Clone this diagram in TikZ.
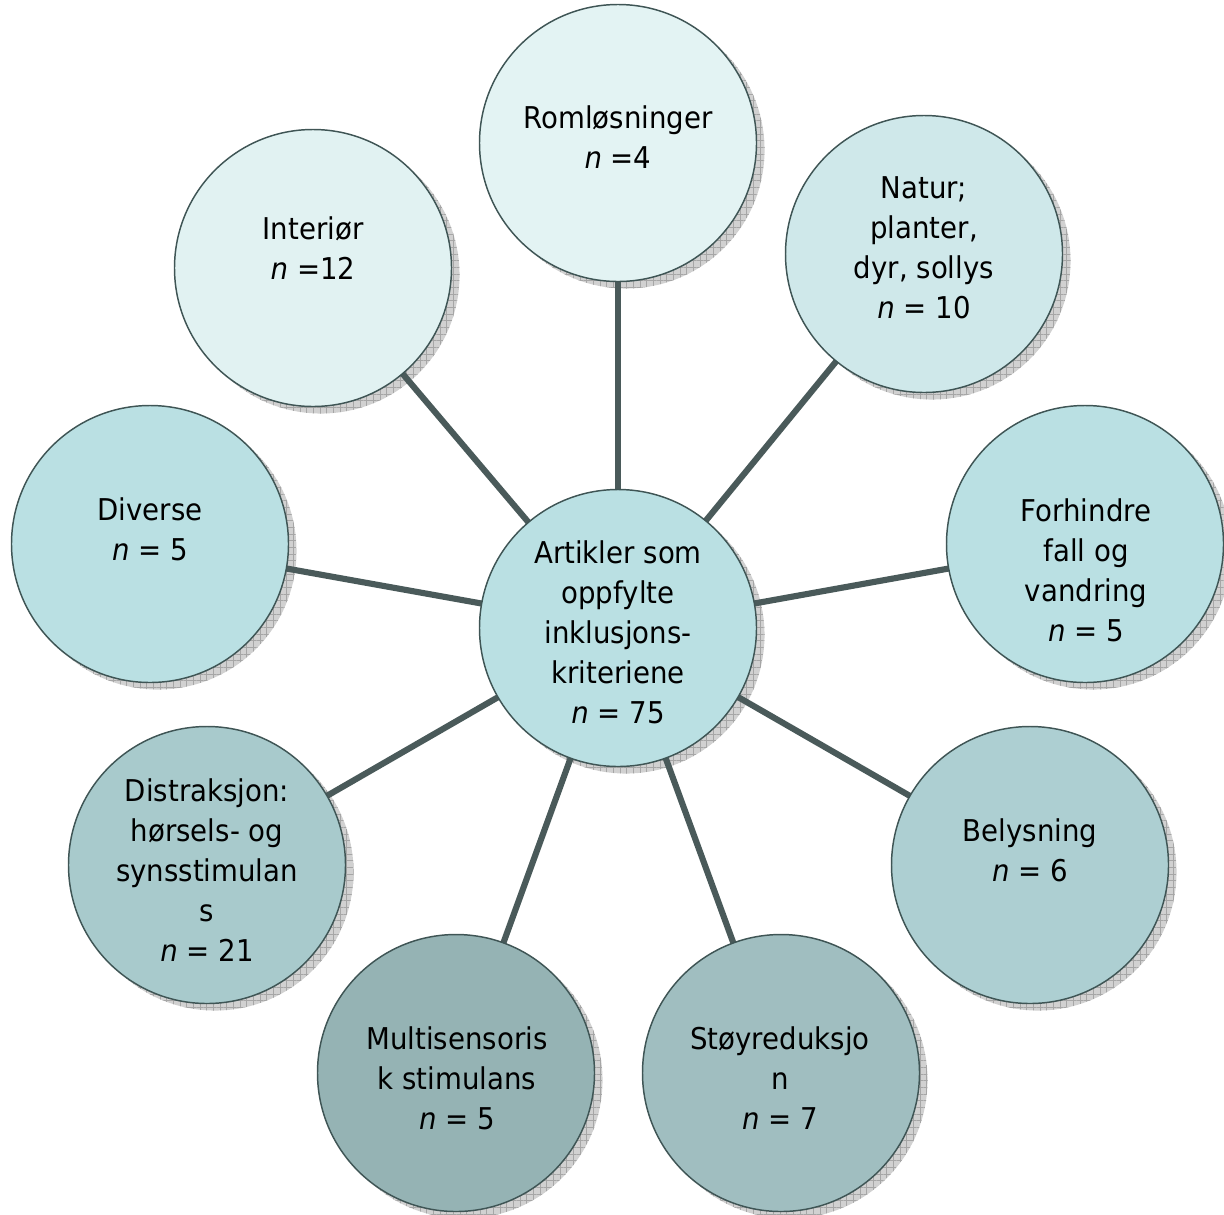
\documentclass[tikz,border=0pt]{standalone}
\usepackage{fontspec}
\setmainfont{DejaVu Sans}[FakeStretch=0.92]
\usepackage{tikz}
\usetikzlibrary{patterns.meta}
\definecolor{spokegray}{HTML}{4A5A5A}
\definecolor{rimgray}{HTML}{3F5555}
\definecolor{romfill}{HTML}{E3F3F3}
\definecolor{intfill}{HTML}{E1F2F2}
\definecolor{natfill}{HTML}{CFE8EA}
\definecolor{hubfill}{HTML}{BAE0E3}
\definecolor{disfill}{HTML}{A8CACC}
\definecolor{belfill}{HTML}{ADCFD2}
\definecolor{mulfill}{HTML}{95B3B4}
\definecolor{stofill}{HTML}{A0BEC0}
\pgfdeclarelayer{shadowlayer}
\pgfdeclarelayer{spokelayer}
\pgfsetlayers{shadowlayer,spokelayer,main}
\tikzset{
every picture/.style={line cap=round,line join=round},
topic/.style={
  circle,
  draw=rimgray,
  line width=1.1pt,
  minimum size=207.75pt,
  inner sep=0pt
},
topic text/.style={align=center, inner sep=0pt, font=\fontsize{22.5}{30}\selectfont},
topic shadow/.style={
  fill=black!18,
  postaction={pattern={Hatch[distance=5pt,line width=0.4pt]}, pattern color=black!35}
},
spoke/.style={draw=spokegray, line width=4.6pt, line cap=butt}
}

\begin{document}
\begin{tikzpicture}[x=0.75pt,y=-0.75pt]
\useasboundingbox (0,0) rectangle (1224,1214);
% circles
\node[topic, fill=hubfill] (hub) at (618,628) {};
\node[topic, fill=romfill] (rom) at (618,143) {};
\node[topic, fill=intfill] (int) at (313,268) {};
\node[topic, fill=natfill] (nat) at (924,254) {};
\node[topic, fill=hubfill] (div) at (150,544) {};
\node[topic, fill=hubfill] (for) at (1085,544) {};
\node[topic, fill=disfill] (dis) at (207,865) {};
\node[topic, fill=belfill] (bel) at (1030,865) {};
\node[topic, fill=mulfill] (mul) at (456,1073) {};
\node[topic, fill=stofill] (sto) at (781,1073) {};
% texts
\node[topic text] (hub-txt) at (618,632) {Artikler som\\oppfylte\\inklusjons-\\kriteriene\\\textit{n} = 75};
\node[topic text] (rom-txt) at (618,137) {Romløsninger\\\textit{n} =4};
\node[topic text] (int-txt) at (313,248) {Interiør\\\textit{n} =12};
\node[topic text] (nat-txt) at (924,248) {Natur;\\planter,\\dyr, sollys\\\textit{n} = 10};
\node[topic text] (div-txt) at (150,529) {Diverse\\\textit{n} = 5};
\node[topic text] (for-txt) at (1086,570) {Forhindre\\fall og\\vandring\\\textit{n} = 5};
\node[topic text] (dis-txt) at (207,870) {Distraksjon:\\hørsels- og\\synsstimulan\\s\\\textit{n} = 21};
\node[topic text] (bel-txt) at (1030,850) {Belysning\\\textit{n} = 6};
\node[topic text] (mul-txt) at (457,1078) {Multisensoris\\k stimulans\\\textit{n} = 5};
\node[topic text] (sto-txt) at (780,1078) {Støyreduksjo\\n\\\textit{n} = 7};
% shadows and spokes behind
\begin{pgfonlayer}{shadowlayer}
\foreach \n in {hub,rom,int,nat,div,for,dis,bel,mul,sto} {
\path[topic shadow] ([shift={(8,7)}]\n.center) circle (103.9pt);
}
\end{pgfonlayer}
\begin{pgfonlayer}{spokelayer}
\foreach \n in {rom,int,nat,div,for,dis,bel,mul,sto} {
\draw[spoke] (hub.center) -- (\n.center);
}
\end{pgfonlayer}
\end{tikzpicture}
\end{document}
